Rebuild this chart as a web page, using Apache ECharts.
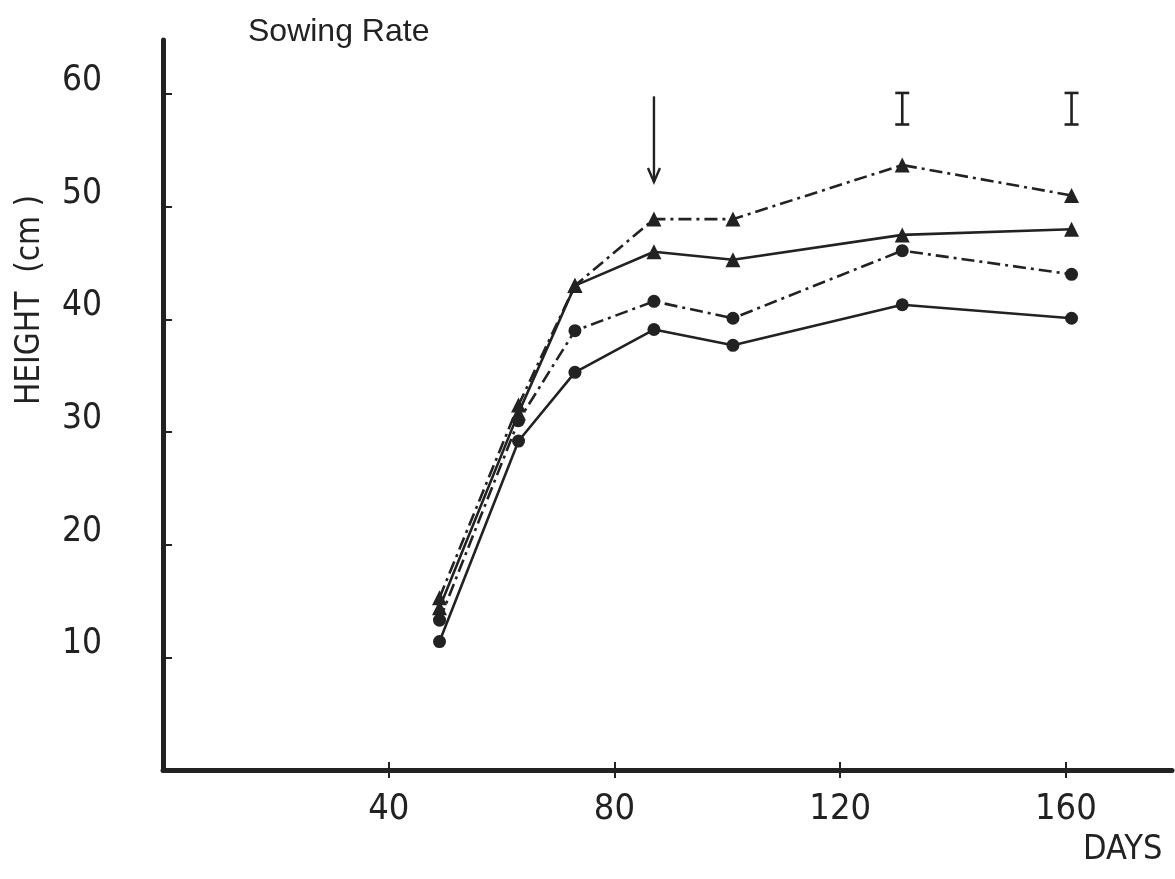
<!DOCTYPE html>
<html>
<head>
<meta charset="utf-8">
<script src="https://cdn.jsdelivr.net/npm/echarts@6/dist/echarts.min.js"></script>
<style>
  html, body { margin: 0; padding: 0; background: #ffffff; }
  #chart { width: 1175px; height: 879px; }
</style>
</head>
<body>
<div id="chart"></div>
<script>
// Plant height (cm) against days after sowing, four treatments
const days = [49, 63, 73, 87, 101, 131, 161];
const triDash  = [15.3, 32.4, 43.0, 48.9, 48.9, 53.7, 51.0];
const triSolid = [14.4, 31.7, 43.0, 46.0, 45.3, 47.5, 48.0];
const dotDash  = [13.3, 31.0, 39.0, 41.6, 40.1, 46.1, 44.0];
const dotSolid = [11.4, 29.2, 35.3, 39.1, 37.7, 41.3, 40.1];

// LSD bars: day, low, high
const lsdDays = [131, 161];
const lsdLow  = [57.3, 57.3];
const lsdHigh = [60.1, 60.1];

// Arrow marking the event day: day, top, tip
const arrowDay = [87];
const arrowTop = [59.8];
const arrowTip = [52.2];

const xTicks = [40, 80, 120, 160];
const yTicks = [10, 20, 30, 40, 50, 60];

const INK = '#222222';
const NARROW = "'Liberation Sans Narrow','DejaVu Sans Condensed','Liberation Sans',sans-serif";
const DASHDOT = [13, 5, 3, 5];

const pairs = (ys) => days.map((d, i) => [d, ys[i]]);

function lineSeries(name, ys, symbol, dashed) {
  return {
    name: name,
    type: 'line',
    data: pairs(ys),
    symbol: symbol,
    symbolSize: symbol === 'triangle' ? 15 : 13,
    itemStyle: { color: INK },
    lineStyle: { color: INK, width: 2.6, type: dashed ? DASHDOT : 'solid' },
    silent: true,
    z: 3
  };
}

const chart = echarts.init(document.getElementById('chart'), null, { renderer: 'canvas' });

const option = {
  animation: false,
  backgroundColor: '#ffffff',
  grid: { left: 163, top: 40, width: 1009, height: 730, containLabel: false },
  xAxis: [
    {
      type: 'value', min: 0, max: 178.8, position: 'bottom',
      splitLine: { show: false },
      axisLine: { show: true, lineStyle: { color: INK, width: 5, cap: 'round' } },
      axisTick: { show: true, inside: false, length: 8, customValues: xTicks, lineStyle: { color: INK, width: 2 } },
      axisLabel: { show: true, customValues: xTicks, margin: 22, color: INK, fontSize: 36, fontFamily: NARROW }
    },
    {
      type: 'value', min: 0, max: 178.8, position: 'bottom',
      splitLine: { show: false },
      axisLine: { show: false },
      axisTick: { show: true, inside: true, length: 8, customValues: xTicks, lineStyle: { color: INK, width: 2 } },
      axisLabel: { show: false }
    }
  ],
  yAxis: {
    type: 'value', min: 0, max: 64.8,
    splitLine: { show: false },
    axisLine: { show: true, lineStyle: { color: INK, width: 5, cap: 'round' } },
    axisTick: { show: true, inside: true, length: 9, customValues: yTicks, lineStyle: { color: INK, width: 2 } },
    axisLabel: {
      show: true, customValues: yTicks, margin: 61, color: INK, fontSize: 35, fontFamily: NARROW,
      verticalAlign: 'bottom', lineHeight: 26
    }
  },
  graphic: [
    { type: 'text', left: 248, top: 16, style: { text: 'Sowing Rate', fill: INK, font: "32px 'Liberation Sans', Arial, sans-serif" } },
    { type: 'text', left: 1083, top: 833, style: { text: 'DAYS', fill: INK, font: "34px " + NARROW } },
    { type: 'text', x: 30, y: 300, rotation: Math.PI / 2,
      style: { text: 'HEIGHT  (cm )', fill: INK, font: "33px " + NARROW, align: 'center', verticalAlign: 'middle' } }
  ],
  series: [
    lineSeries('solid circle', dotSolid, 'circle', false),
    lineSeries('dash circle', dotDash, 'circle', true),
    lineSeries('solid triangle', triSolid, 'triangle', false),
    lineSeries('dash triangle', triDash, 'triangle', true),
    {
      name: 'LSD',
      type: 'custom',
      silent: true,
      data: lsdDays.map((d, i) => [d, lsdLow[i], lsdHigh[i]]),
      encode: { x: 0, y: [1, 2] },
      renderItem: function (params, api) {
        const top = api.coord([api.value(0), api.value(2)]);
        const bot = api.coord([api.value(0), api.value(1)]);
        const hw = 7;
        const st = { stroke: INK, lineWidth: 2.6 };
        return {
          type: 'group',
          children: [
            { type: 'line', shape: { x1: top[0], y1: top[1], x2: bot[0], y2: bot[1] }, style: st },
            { type: 'line', shape: { x1: top[0] - hw, y1: top[1], x2: top[0] + hw, y2: top[1] }, style: st },
            { type: 'line', shape: { x1: bot[0] - hw, y1: bot[1], x2: bot[0] + hw, y2: bot[1] }, style: st }
          ]
        };
      }
    },
    {
      name: 'arrow',
      type: 'custom',
      silent: true,
      data: arrowDay.map((d, i) => [d, arrowTip[i], arrowTop[i]]),
      encode: { x: 0, y: [1, 2] },
      renderItem: function (params, api) {
        const top = api.coord([api.value(0), api.value(2)]);
        const tip = api.coord([api.value(0), api.value(1)]);
        const st = { stroke: INK, lineWidth: 2.4 };
        return {
          type: 'group',
          children: [
            { type: 'line', shape: { x1: top[0], y1: top[1], x2: tip[0], y2: tip[1] }, style: st },
            { type: 'polyline', shape: { points: [[tip[0] - 6, tip[1] - 14], [tip[0], tip[1]], [tip[0] + 6, tip[1] - 14]] }, style: Object.assign({ fill: null }, st) }
          ]
        };
      }
    }
  ]
};

chart.setOption(option);
</script>
</body>
</html>
